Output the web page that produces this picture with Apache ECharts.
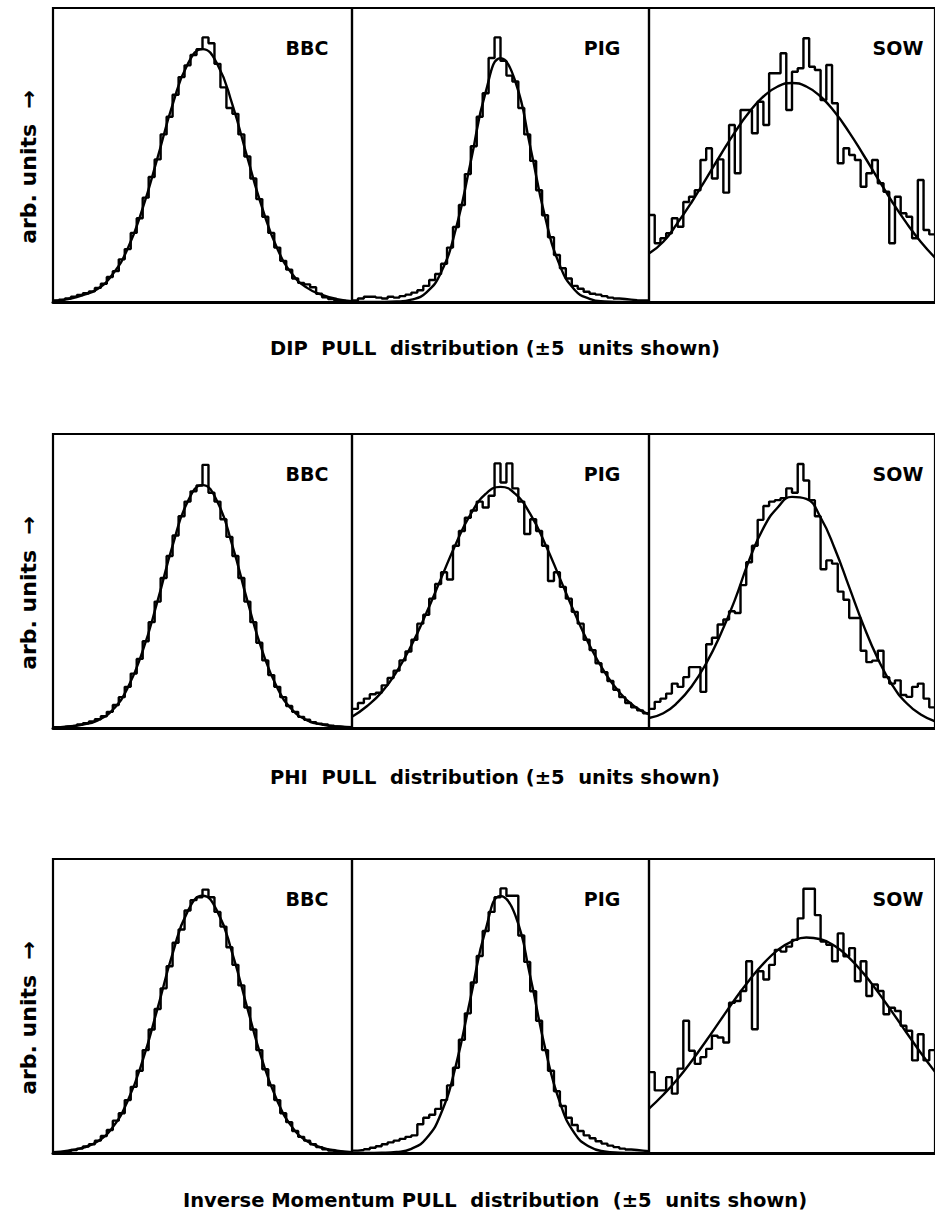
<!DOCTYPE html>
<html>
<head>
<meta charset="utf-8">
<script src="https://cdn.jsdelivr.net/npm/echarts@6/dist/echarts.min.js"></script>
<style>
html, body { margin: 0; padding: 0; background: #ffffff; }
#chart { width: 935px; height: 1213px; }
</style>
</head>
<body>
<div id="chart"></div>
<script>
// ---------------- data ----------------
const panelNames = ['BBC', 'PIG', 'SOW'];
const captions = [
  'DIP  PULL  distribution (\u00b15  units shown)',
  'PHI  PULL  distribution (\u00b15  units shown)',
  'Inverse Momentum PULL  distribution  (\u00b15  units shown)'
];
const yLabel = 'arb. units  \u2192';

// x range of every panel (pull units) and bin / fit-sample spacing
const xMin = -5, xMax = 5;
const binWidth = 0.2;      // 50 histogram bins
const fitStep = 0.5;       // fit curve sampled at -5, -4.5, ... 5

// ---- DIP pull ----
const dipBBCHist = [0.5, 0.8, 1.2, 1.8, 2.4, 3.0, 3.6, 4.8, 6.2, 8.5, 10.5, 14.5, 18, 23.5, 28.5, 35.5, 42.5, 48.5, 57, 63, 70.5, 76.5, 80.5, 84, 86,
                    90, 88, 81, 73, 66, 64, 57, 49.5, 42, 35, 29, 23.5, 18.5, 14, 11, 8, 6.5, 6.0, 5.0, 2.8, 1.6, 1.0, 0.6, 0.4, 0.3];
const dipBBCFit = [0.3, 1.0, 2.3, 4.5, 9.5, 18.2, 31.9, 49.2, 67.1, 80.8, 86, 80.8, 67.1, 49.2, 31.9, 18.2, 9.5, 4.8, 2.4, 1.0, 0.3];

const dipPIGHist = [0.5, 1.2, 1.8, 1.8, 1.5, 1.2, 1.8, 1.5, 2.0, 2.5, 3.2, 4.0, 5.5, 7.5, 9.5, 13, 18.5, 25.5, 33, 43.5, 53, 63, 71, 83, 90,
                    82, 77, 75, 66, 57, 48, 38, 29.5, 22, 16, 11.5, 8, 5.5, 4.5, 3.5, 2.8, 2.5, 2.0, 1.5, 1.2, 1.0, 0.8, 0.6, 0.5, 0.5];
const dipPIGFit = [0, 0, 0.02, 0.15, 0.8, 3.2, 10.1, 25.0, 47.8, 71.4, 82.9, 75.0, 52.9, 29.0, 12.4, 4.1, 1.1, 0.2, 0.03, 0, 0];

const dipSOWHist = [29.6, 20, 21.7, 23.4, 28.5, 25.6, 34, 35.8, 38, 48.3,
                    52.3, 42, 48.5, 37.2, 60.2, 43.8, 65.3, 65.3, 57.4, 68.1,
                    60.2, 77.8, 77.8, 84.6, 65.3, 78.3, 79.5, 89.7, 80, 78.9,
                    68.7, 80.6, 67.6, 47.2, 52.3, 50, 48.3, 39.2, 43.8, 48.3,
                    40.4, 37.5, 20, 35.8, 30.2, 29, 21.7, 41.5, 24.5, 23];
const dipSOWFit = [16.5, 20.5, 26.9, 34.1, 42.0, 50.0, 57.7, 64.5, 69.9, 73.3, 74.5, 73.3, 69.9, 64.5, 57.7, 50.0, 42.0, 34.1, 26.9, 20.5, 15.1];

// ---- PHI pull ----
const phiBBCHist = [0.3, 0.4, 0.6, 0.8, 1.2, 1.6, 2.2, 3.0, 4.0, 5.5, 7.8, 10.5, 14, 18.5, 23.5, 29.5, 36, 43, 51, 58.5, 65.5, 72, 77, 80.5, 82.5,
                    89.5, 80, 77, 71, 65, 58.5, 51, 43, 36, 29, 23, 18, 14, 10.5, 7.5, 5.5, 3.8, 2.8, 2.0, 1.5, 1.2, 0.8, 0.5, 0.4, 0.3];
const phiBBCFit = [0.1, 0.5, 1.2, 2.6, 6.2, 13.7, 26.2, 43.3, 62.0, 76.9, 82.6, 76.9, 62.0, 43.3, 26.2, 13.7, 6.2, 2.6, 1.2, 0.5, 0.1];

const phiPIGHist = [6.5, 8.5, 10, 11.5, 12, 14.5, 17, 19.5, 23, 26, 30, 35.5, 38.5, 44, 49, 53, 50.5, 62, 67, 71.5, 74, 77, 75, 79, 90,
                    83.5, 90, 81.5, 77, 66, 71, 67, 62, 50, 53, 48, 44, 39.5, 35.5, 30, 26.5, 22, 19, 16, 13, 10.5, 8.5, 7, 6, 5];
const phiPIGFit = [3.8, 7.4, 12.2, 19.1, 28.1, 39.0, 50.9, 62.7, 72.8, 79.6, 82, 79.6, 72.8, 62.7, 50.9, 39.0, 28.1, 19.1, 12.2, 7.4, 4.6];

const phiSOWHist = [6.5, 8.9, 10, 11.7, 15.1, 14, 17.3, 20.7, 20.7, 12.3,
                    28.5, 30.7, 35.2, 36.9, 39.7, 39.1, 48.6, 56.4, 62, 70.8,
                    75.5, 77, 77.5, 78.2, 81.5, 80, 89.8, 84.2, 77.5, 72,
                    54, 57, 55.9, 46.4, 43.6, 37.4, 37.4, 26.3, 22.4, 22.9,
                    26.3, 17.3, 15.1, 16.2, 11.2, 10.6, 14, 15.1, 10, 7];
const phiSOWFit = [3.4, 5.0, 8.7, 14.3, 22.0, 31.8, 43.5, 57.0, 68.0, 75.0, 78.6, 77.9, 71.6, 60.9, 47.9, 34.9, 23.6, 14.7, 8.5, 4.6, 2.3];

// ---- Inverse momentum pull ----
const invBBCHist = [0.3, 0.4, 0.6, 1.0, 1.5, 2.2, 3.0, 4.2, 5.8, 7.8, 11, 13.5, 18, 22.5, 28, 35, 42, 49, 56, 63.5, 71.5, 76, 82.5, 86, 87,
                    89.6, 87, 82, 77, 70, 64, 57, 49.5, 42, 35, 28.5, 23, 18, 13.5, 10.5, 7.5, 5.5, 4.2, 3.0, 2.0, 1.3, 0.8, 0.5, 0.4, 0.3];
const invBBCFit = [0.3, 0.8, 1.8, 4.0, 8.8, 17.8, 31.5, 49.3, 67.8, 82.1, 87.5, 82.1, 67.8, 49.3, 31.5, 17.8, 8.8, 4.0, 1.8, 0.8, 0.3];

const invPIGHist = [0.8, 1.0, 1.3, 1.8, 2.3, 3.0, 3.6, 4.2, 4.8, 5.5, 6.0, 9.8, 12, 13, 15, 18, 23, 29, 38.5, 47.5, 58, 67, 75.5, 82, 87,
                    90, 87.5, 87.5, 74, 65, 55, 45, 35, 28, 21, 16, 12, 9.5, 7.5, 6, 5, 4, 3.2, 2.5, 2, 1.5, 1.2, 1.0, 0.8, 0.6];
const invPIGFit = [0, 0, 0.06, 0.33, 1.43, 4.9, 13.5, 29.9, 53.1, 76.0, 87.4, 80.8, 60.1, 35.8, 17.2, 6.6, 2.1, 0.5, 0.1, 0, 0];

const invSOWHist = [27.5, 21.3, 21.3, 25.8, 20.2, 28.7, 45, 34.8, 30.3, 32.6,
                    35.4, 39.9, 39.3, 37.6, 51.1, 51.7, 55.1, 65.2, 42.1, 61.8,
                    59, 64, 69.1, 68.5, 70.2, 72.5, 79.8, 89.9, 89.9, 80.9,
                    71.9, 70.8, 65.2, 74.7, 66.9, 69.7, 58.4, 65.2, 53.4, 57.3,
                    55.1, 47.2, 49.4, 48.3, 43.3, 41.6, 31.5, 40.4, 31.5, 35];
const invSOWFit = [15.1, 19.8, 25.2, 31.4, 38.2, 45.2, 52.2, 58.7, 64.4, 69.0, 72.0, 73.3, 72.7, 70.4, 66.4, 61.1, 54.8, 48.0, 41.0, 34.1, 27.6];

// ---------------- layout (styles / positions) ----------------
const rowTops = [8, 434, 859];
const rowHeight = 294;
const colLefts = [53, 352, 649];
const colWidths = [299, 297, 298];
const labelCenters = [307, 602, 898];
const captionY = [348, 777, 1200];
const FONT = '"DejaVu Sans", "Liberation Sans", sans-serif';

const rows = [
  { hist: [dipBBCHist, dipPIGHist, dipSOWHist], fit: [dipBBCFit, dipPIGFit, dipSOWFit] },
  { hist: [phiBBCHist, phiPIGHist, phiSOWHist], fit: [phiBBCFit, phiPIGFit, phiSOWFit] },
  { hist: [invBBCHist, invPIGHist, invSOWHist], fit: [invBBCFit, invPIGFit, invSOWFit] }
];

const grid = [], xAxis = [], yAxis = [], series = [], graphic = [];

rows.forEach((row, r) => {
  for (let c = 0; c < 3; c++) {
    const idx = r * 3 + c;
    grid.push({
      left: colLefts[c], top: rowTops[r], width: colWidths[c], height: rowHeight,
      show: true, borderColor: '#000', borderWidth: 2.2, backgroundColor: 'transparent',
      containLabel: false
    });
    xAxis.push({
      type: 'value', gridIndex: idx, min: xMin, max: xMax,
      axisLine: { show: true, onZero: false, lineStyle: { color: '#000', width: 3 } },
      axisTick: { show: false },
      axisLabel: { show: false }, splitLine: { show: false }
    });
    yAxis.push({
      type: 'value', gridIndex: idx, min: 0, max: 100,
      axisLine: { show: false }, axisTick: { show: false },
      axisLabel: { show: false }, splitLine: { show: false }
    });

    const h = row.hist[c];
    const histData = h.map((v, i) => [xMin + i * binWidth, v]);
    histData.push([xMax, h[h.length - 1]]);
    series.push({
      type: 'line', xAxisIndex: idx, yAxisIndex: idx,
      data: histData, step: 'end', symbol: 'none', silent: true,
      lineStyle: { color: '#000', width: 2.4 }, animation: false
    });

    const f = row.fit[c];
    series.push({
      type: 'line', xAxisIndex: idx, yAxisIndex: idx,
      data: f.map((v, i) => [xMin + i * fitStep, v]),
      smooth: 0.5, symbol: 'none', silent: true,
      lineStyle: { color: '#000', width: 2.4 }, animation: false
    });

    graphic.push({
      type: 'text', x: labelCenters[c], y: rowTops[r] + 40, silent: true,
      style: { text: panelNames[c], fill: '#000', fontFamily: FONT, fontWeight: 'bold',
               fontSize: 19, align: 'center', verticalAlign: 'middle' }
    });
  }

  graphic.push({
    type: 'text', x: 28, y: rowTops[r] + rowHeight / 2 + 12, rotation: Math.PI / 2, silent: true,
    style: { text: yLabel, fill: '#000', fontFamily: FONT, fontWeight: 'bold',
             fontSize: 22, align: 'center', verticalAlign: 'middle' }
  });
  graphic.push({
    type: 'text', x: 495, y: captionY[r], silent: true,
    style: { text: captions[r], fill: '#000', fontFamily: FONT, fontWeight: 'bold',
             fontSize: 19.5, align: 'center', verticalAlign: 'middle' }
  });
});

const chart = echarts.init(document.getElementById('chart'), null, { renderer: 'svg' });
chart.setOption({
  backgroundColor: '#ffffff',
  animation: false,
  grid, xAxis, yAxis, series, graphic
});
</script>
</body>
</html>
